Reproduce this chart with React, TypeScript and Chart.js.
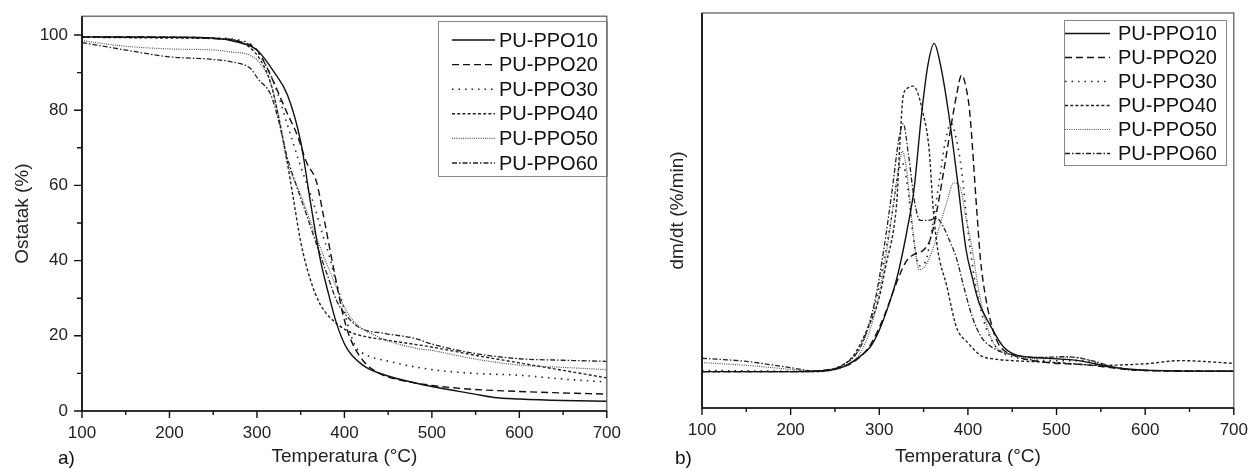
import React, { useEffect, useRef } from 'react';
import { Chart, registerables } from 'chart.js';

Chart.register(...registerables);

const FONT = "'Liberation Sans', Arial, Helvetica, sans-serif";

// ---------- series names ----------
const seriesNames = ['PU-PPO10', 'PU-PPO20', 'PU-PPO30', 'PU-PPO40', 'PU-PPO50', 'PU-PPO60'];

// ---------- tick labels ----------
const xTickValues = [100, 200, 300, 400, 500, 600, 700];
const tgYTickValues = [0, 20, 40, 60, 80, 100];

// ---------- a) TG curves: Ostatak (%) vs temperature ----------
const tgT10 = [100, 200, 250, 280, 300, 320, 335, 350, 361, 372, 382, 391, 402, 421, 447, 480, 500, 549, 571, 600, 650, 700];
const tgV10 = [99.5, 99.4, 99.2, 98, 96, 90, 84, 71.7, 55.8, 40.8, 31, 23.3, 17, 12.2, 9.5, 7.5, 6.5, 4.5, 3.6, 3.2, 2.8, 2.6];

const tgT20 = [100, 200, 250, 280, 300, 310, 320, 335, 345, 357, 368, 376, 383, 391, 398, 406, 421, 440, 455, 500, 545, 600, 650, 700];
const tgV20 = [99.5, 99.4, 99.1, 98.3, 96, 92, 87, 79, 74, 66, 61, 52, 43.5, 34, 26, 19.7, 13.5, 10, 8.7, 6.8, 5.8, 5.2, 4.8, 4.5];

const tgT30 = [100, 200, 250, 290, 305, 320, 335, 350, 365, 375, 383, 392, 398, 405, 413, 420, 455, 500, 550, 600, 650, 700];
const tgV30 = [99.5, 99.4, 99.2, 98, 94, 87, 76, 65, 55, 47, 41, 33, 28.5, 22, 17, 15.5, 13, 11, 10, 9.5, 8.5, 7.7];

const tgT40 = [100, 200, 270, 290, 305, 316, 325, 334, 342, 350, 361, 372, 383, 402, 420, 450, 500, 550, 600, 650, 700];
const tgV40 = [99.4, 99.2, 98.8, 97, 93, 87, 78, 67, 56, 45, 35, 28.5, 25, 21.5, 20, 18.8, 17, 14.8, 12.8, 10.8, 8.8];

const tgT50 = [100, 150, 200, 250, 270, 293, 305, 316, 325, 334, 350, 365, 380, 391, 398, 410, 440, 481, 500, 550, 600, 650, 700];
const tgV50 = [98.5, 97, 96.3, 96, 95.5, 94.5, 92, 87, 78, 67, 57.5, 48, 39, 32.8, 28.5, 24, 19.6, 16.7, 16.1, 13.8, 12.2, 11.6, 11];

const tgT60 = [100, 150, 200, 250, 270, 293, 301, 316, 325, 334, 345, 357, 368, 380, 391, 400, 417, 447, 481, 500, 549, 600, 650, 700];
const tgV60 = [98, 96, 94.2, 93.5, 92.9, 91, 88.4, 84, 77, 68, 60, 52, 44.4, 36.5, 29.4, 26, 22.2, 20.6, 19.3, 17.8, 15.3, 13.9, 13.5, 13.2];

// ---------- b) DTG curves: dm/dt (arbitrary units) vs temperature ----------
const dtgT10 = [100, 200, 240, 260, 275, 290, 300, 312, 320, 327, 333, 339, 348, 355, 362, 368, 378, 388, 398, 405, 412, 425, 440, 455, 490, 525, 560, 600, 700];
const dtgV10 = [9.2, 9.2, 9.5, 10.5, 12.5, 15.5, 19.7, 27, 33, 40, 47, 55, 75, 87, 92.3, 88, 75, 58, 40, 33, 27, 21, 15.5, 13.4, 12.6, 12, 10.4, 9.6, 9.3];

const dtgT20 = [100, 200, 250, 270, 290, 305, 320, 330, 340, 350, 358, 365, 372, 380, 387, 393, 398, 402, 410, 414, 420, 428, 435, 450, 490, 530, 570, 600, 700];
const dtgV20 = [9.2, 9.2, 10, 11.5, 16, 23, 32, 37, 39, 40, 43, 50, 59, 70, 79, 84.3, 81, 75, 50, 38, 28, 20, 16, 13.5, 11.5, 11, 10, 9.5, 9.3];

const dtgT30 = [100, 220, 260, 280, 295, 305, 315, 321, 326, 332, 338, 345, 352, 360, 368, 375, 381, 387, 393, 400, 408, 418, 430, 450, 500, 530, 560, 600, 700];
const dtgV30 = [9.5, 9.3, 11, 16, 26, 37, 50, 59, 62, 56, 44, 36, 37, 46, 58, 68, 72, 68, 60, 45, 32, 22, 16, 13, 12, 12, 10.5, 9.5, 9.3];

const dtgT40 = [100, 230, 255, 270, 286, 300, 308, 316, 320, 323, 327, 332, 338, 343, 349, 356, 361, 366, 376, 387, 400, 415, 430, 450, 500, 550, 600, 640, 700];
const dtgV40 = [9.2, 9.2, 10.5, 13, 19.7, 28, 36.7, 45, 53, 66, 79, 81, 81.5, 80, 75, 66, 50, 40, 31, 20.5, 16.5, 13.2, 12.4, 12, 11.5, 10.8, 11.2, 12, 11.3];

const dtgT50 = [100, 150, 200, 230, 260, 280, 295, 305, 315, 322, 326, 331, 338, 345, 352, 360, 368, 376, 384, 391, 398, 405, 412, 420, 430, 450, 480, 520, 560, 600, 700];
const dtgV50 = [11.5, 10.8, 9.8, 9.3, 10.5, 14.5, 24, 35, 50, 61, 65, 60, 45, 35, 36, 40, 46, 52, 57, 56, 48, 40, 30, 22, 16, 13.5, 12.5, 12.8, 10.5, 9.5, 9.3];

const dtgT60 = [100, 150, 200, 230, 260, 280, 295, 305, 315, 322, 327, 333, 340, 346, 355, 365, 372, 380, 387, 395, 405, 415, 430, 450, 480, 510, 540, 570, 600, 700];
const dtgV60 = [12.6, 11.8, 10.2, 9.3, 11, 16, 27, 40, 56, 68, 72, 64, 52, 47.5, 47.5, 48, 46, 42, 38, 31, 23, 18, 15, 13.5, 12.8, 13, 12, 10, 9.5, 9.3];

// ---------- styles ----------
const lineColors = ['#111', '#111', '#222', '#222', '#555', '#222'];
const lineDashes: number[][] = [[], [7, 4], [1.5, 5], [3, 2.2], [1, 1.2], [5, 2, 1.5, 2]];
const lineWidths = [1.4, 1.4, 1.6, 1.4, 1.2, 1.3];

const tgSeries = [
  [tgT10, tgV10], [tgT20, tgV20], [tgT30, tgV30], [tgT40, tgV40], [tgT50, tgV50], [tgT60, tgV60],
];
const dtgSeries = [
  [dtgT10, dtgV10], [dtgT20, dtgV20], [dtgT30, dtgV30], [dtgT40, dtgV40], [dtgT50, dtgV50], [dtgT60, dtgV60],
];

function buildDatasets(series: number[][][]) {
  return series.map(([ts, vs], i) => ({
    label: seriesNames[i],
    data: ts.map((t, j) => ({ x: t, y: vs[j] })),
    borderColor: lineColors[i],
    borderDash: lineDashes[i],
    borderWidth: lineWidths[i],
    pointRadius: 0,
    fill: false,
    cubicInterpolationMode: 'monotone' as const,
  }));
}

type PanelOpts = {
  yMinorTicks: boolean;
  legend: { left: number; top: number; right: number; bottom: number; lineX0: number; lineX1: number; textX: number; row0: number; rowStep: number; fontSize: number };
  panelLabel: string;
  panelLabelX: number;
};

function framePlugin(o: PanelOpts) {
  return {
    id: 'frameAndLegend',
    afterDraw(chart: any) {
      const ctx: CanvasRenderingContext2D = chart.ctx;
      const a = chart.chartArea;
      ctx.save();
      // frame
      ctx.setLineDash([]);
      ctx.strokeStyle = '#555';
      ctx.lineWidth = 1.2;
      ctx.strokeRect(a.left, a.top, a.right - a.left, a.bottom - a.top);
      // axes
      ctx.strokeStyle = '#111';
      ctx.lineWidth = 1.7;
      ctx.beginPath();
      ctx.moveTo(a.left, a.top);
      ctx.lineTo(a.left, a.bottom);
      ctx.lineTo(a.right, a.bottom);
      ctx.stroke();
      // x ticks (major + minor)
      const xs = chart.scales.x;
      ctx.lineWidth = 1.4;
      ctx.beginPath();
      for (let v = xs.min; v <= xs.max; v += 50) {
        const px = xs.getPixelForValue(v);
        const len = v % 100 === 0 ? 7 : 4;
        ctx.moveTo(px, a.bottom);
        ctx.lineTo(px, a.bottom + len);
      }
      ctx.stroke();
      if (o.yMinorTicks) {
        const ys = chart.scales.y;
        ctx.beginPath();
        for (let v = 0; v <= 100; v += 10) {
          const py = ys.getPixelForValue(v);
          const len = v % 20 === 0 ? 8 : 5;
          ctx.moveTo(a.left, py);
          ctx.lineTo(a.left - len, py);
        }
        ctx.stroke();
      }
      // legend box
      const L = o.legend;
      ctx.strokeStyle = '#888';
      ctx.lineWidth = 1;
      ctx.strokeRect(L.left + 0.5, L.top + 0.5, L.right - L.left, L.bottom - L.top);
      ctx.font = `${L.fontSize}px ${FONT}`;
      ctx.textBaseline = 'middle';
      ctx.textAlign = 'left';
      chart.data.datasets.forEach((ds: any, i: number) => {
        const y = L.row0 + i * L.rowStep;
        ctx.strokeStyle = ds.borderColor;
        ctx.lineWidth = ds.borderWidth;
        ctx.setLineDash(ds.borderDash);
        ctx.beginPath();
        ctx.moveTo(L.lineX0, y);
        ctx.lineTo(L.lineX1, y);
        ctx.stroke();
        ctx.setLineDash([]);
        ctx.fillStyle = '#111';
        ctx.fillText(ds.label, L.textX, y + 1);
      });
      // panel label
      ctx.font = `19px ${FONT}`;
      ctx.fillStyle = '#111';
      ctx.textBaseline = 'alphabetic';
      ctx.fillText(o.panelLabel, o.panelLabelX, 464);
      ctx.restore();
    },
  };
}

const tickFont = { family: FONT, size: 17 };
const titleFont = { family: FONT, size: 19 };

function leftConfig(): any {
  return {
    type: 'line',
    data: { datasets: buildDatasets(tgSeries) },
    options: {
      animation: false,
      responsive: false,
      devicePixelRatio: 1,
      layout: { padding: { left: 0, top: 14, right: 12, bottom: 0 } },
      plugins: { legend: { display: false }, tooltip: { enabled: false } },
      scales: {
        x: {
          type: 'linear', min: 100, max: 700,
          afterBuildTicks: (s: any) => { s.ticks = xTickValues.map((v) => ({ value: v })); },
          afterFit: (s: any) => { s.height = 58; },
          ticks: { font: tickFont, color: '#222', padding: 5, maxRotation: 0, autoSkip: false },
          grid: { display: false, drawTicks: true, tickLength: 7 },
          border: { display: false },
          title: { display: true, text: 'Temperatura (°C)', font: titleFont, color: '#222', padding: { top: 0, bottom: 1 } },
        },
        y: {
          type: 'linear', min: 0, max: 105,
          afterBuildTicks: (s: any) => { s.ticks = tgYTickValues.map((v) => ({ value: v })); },
          afterFit: (s: any) => { s.width = 82; },
          ticks: { font: tickFont, color: '#222', padding: 6, autoSkip: false },
          grid: { display: false, drawTicks: true, tickLength: 8 },
          border: { display: false },
          title: { display: true, text: 'Ostatak (%)', font: titleFont, color: '#222', padding: { top: 11, bottom: 0 } },
        },
      },
    },
    plugins: [framePlugin({
      yMinorTicks: true,
      legend: { left: 438, top: 21, right: 607, bottom: 176, lineX0: 452, lineX1: 495, textX: 499, row0: 40, rowStep: 24.6, fontSize: 20 },
      panelLabel: 'a)', panelLabelX: 58,
    })],
  };
}

function rightConfig(): any {
  return {
    type: 'line',
    data: { datasets: buildDatasets(dtgSeries) },
    options: {
      animation: false,
      responsive: false,
      devicePixelRatio: 1,
      layout: { padding: { left: 0, top: 13, right: 19, bottom: 0 } },
      plugins: { legend: { display: false }, tooltip: { enabled: false } },
      scales: {
        x: {
          type: 'linear', min: 100, max: 700,
          afterBuildTicks: (s: any) => { s.ticks = xTickValues.map((v) => ({ value: v })); },
          afterFit: (s: any) => { s.height = 61; },
          ticks: { font: tickFont, color: '#222', padding: 5, maxRotation: 0, autoSkip: false },
          grid: { display: false, drawTicks: true, tickLength: 7 },
          border: { display: false },
          title: { display: true, text: 'Temperatura (°C)', font: titleFont, color: '#222', padding: { top: 0, bottom: 1 } },
        },
        y: {
          type: 'linear', min: 0, max: 100,
          afterFit: (s: any) => { s.width = 76; },
          ticks: { display: false },
          grid: { display: false },
          border: { display: false },
          title: { display: true, text: 'dm/dt (%/min)', font: titleFont, color: '#222', padding: { top: 40, bottom: 0 } },
        },
      },
    },
    plugins: [framePlugin({
      yMinorTicks: false,
      legend: { left: 438, top: 20, right: 600, bottom: 165, lineX0: 439, lineX1: 484, textX: 492, row0: 33.5, rowStep: 24, fontSize: 20 },
      panelLabel: 'b)', panelLabelX: 49,
    })],
  };
}

function Panel({ makeConfig, left, width }: { makeConfig: () => any; left: number; width: number }) {
  const ref = useRef<HTMLCanvasElement>(null);
  useEffect(() => {
    const chart = new Chart(ref.current as HTMLCanvasElement, makeConfig());
    return () => chart.destroy();
  }, []);
  return (
    <canvas
      ref={ref}
      width={width}
      height={469}
      style={{ position: 'absolute', left, top: 0, width, height: 469 }}
    />
  );
}

export default function App() {
  return (
    <div style={{ position: 'absolute', left: 0, top: 0, width: 1253, height: 469, background: '#fff' }}>
      <Panel makeConfig={leftConfig} left={0} width={626} />
      <Panel makeConfig={rightConfig} left={626} width={627} />
    </div>
  );
}
